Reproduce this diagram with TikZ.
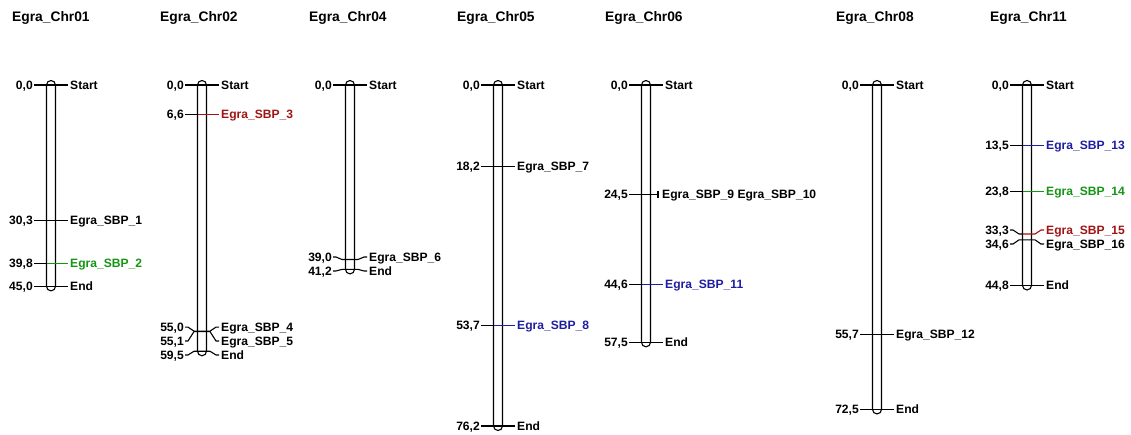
\documentclass[tikz,border=0pt]{standalone}
\usepackage{fontspec}
\setmainfont{Liberation Sans}
\usetikzlibrary{calc}
\definecolor{sgreen}{RGB}{20,150,20}
\definecolor{sred}{RGB}{160,20,20}
\definecolor{sblue}{RGB}{30,30,160}
\tikzset{
  lab/.style={font=\bfseries\fontsize{12.1}{14}\selectfont, inner sep=0pt},
  ttl/.style={font=\bfseries\fontsize{13.8}{16}\selectfont, anchor=base west, inner sep=0pt},
  chrbar/.style={draw, fill=white, line width=1.1pt, rounded corners=4.5pt},
  tickline/.style={line width=1.1pt},
}
% chromosome: id, x, end cM, title, title x
\newcommand\chrom[5]{%
  \pgfmathsetmacro\ybot{85+4.475*#3}%
  \node[ttl] (#1t) at (#5,22) {#4};
  \draw[chrbar] (#2-4.5,80.5) rectangle (#2+4.5,\ybot+4.5);
}
% marker: id, x, cM, label shift, left text, right text, colour
\newcommand\mrk[7]{%
  \pgfmathsetmacro\my{85+4.475*#3}%
  \pgfmathsetmacro\ly{\my+#4}%
  \node[lab, anchor=base east] (#1l) at (#2-18,\ly+4.3) {#5};
  \node[lab, anchor=base west, text=#7] (#1r) at (#2+19,\ly+4.3) {#6};
  \coordinate (#1a) at (#2-17,\ly);
  \coordinate (#1b) at (#2+17,\ly);
  \draw[tickline] (#1a) -- (#2-14,\ly) -- (#2-8,\my) -- (#2-4.5,\my);
  \draw[tickline, #7] (#2-4.5,\my) -- (#2+8,\my) -- (#2+14,\ly) -- (#1b);
}
\begin{document}
\begin{tikzpicture}[x=1pt,y=-1pt]
\useasboundingbox (0,0) rectangle (1131,435);
% Chr01
\chrom{c1}{51}{45.0}{Egra\_Chr01}{12}
\mrk{a1}{51}{0}{0}{0,0}{Start}{black}
\mrk{a2}{51}{30.3}{0}{30,3}{Egra\_SBP\_1}{black}
\mrk{a3}{51}{39.8}{0}{39,8}{Egra\_SBP\_2}{sgreen}
\mrk{a4}{51}{45.0}{0}{45,0}{End}{black}
% Chr02
\chrom{c2}{202}{59.5}{Egra\_Chr02}{160}
\mrk{b1}{202}{0}{0}{0,0}{Start}{black}
\mrk{b2}{202}{6.6}{0}{6,6}{Egra\_SBP\_3}{sred}
\mrk{b3}{202}{55.0}{-4}{55,0}{Egra\_SBP\_4}{black}
\mrk{b4}{202}{55.1}{9.4}{55,1}{Egra\_SBP\_5}{black}
\mrk{b5}{202}{59.5}{3.7}{59,5}{End}{black}
% Chr04
\chrom{c4}{350}{41.2}{Egra\_Chr04}{309}
\mrk{d1}{350}{0}{0}{0,0}{Start}{black}
\mrk{d2}{350}{39.0}{-2.5}{39,0}{Egra\_SBP\_6}{black}
\mrk{d3}{350}{41.2}{1.6}{41,2}{End}{black}
% Chr05
\chrom{c5}{498}{76.2}{Egra\_Chr05}{457}
\mrk{e1}{498}{0}{0}{0,0}{Start}{black}
\mrk{e2}{498}{18.2}{0}{18,2}{Egra\_SBP\_7}{black}
\mrk{e3}{498}{53.7}{0}{53,7}{Egra\_SBP\_8}{sblue}
\mrk{e4}{498}{76.2}{0}{76,2}{End}{black}
% Chr06
\chrom{c6}{646}{57.5}{Egra\_Chr06}{605}
\mrk{f1}{646}{0}{0}{0,0}{Start}{black}
\pgfmathsetmacro\my{85+4.475*24.5}
\node[lab, anchor=base east] (f2l) at (628,\my+4.3) {24,5};
\node[lab, anchor=base west] (f2r) at (662,\my+4.3) {Egra\_SBP\_9 Egra\_SBP\_10};
\draw[tickline] ([xshift=1]f2l.east |- 0,\my) -- (658,\my);
\draw[tickline] (658,\my-3.5) -- (658,\my+3.5);
\mrk{f3}{646}{44.6}{0}{44,6}{Egra\_SBP\_11}{sblue}
\mrk{f4}{646}{57.5}{0}{57,5}{End}{black}
% Chr08
\chrom{c8}{877}{72.5}{Egra\_Chr08}{836}
\mrk{g1}{877}{0}{0}{0,0}{Start}{black}
\mrk{g2}{877}{55.7}{0}{55,7}{Egra\_SBP\_12}{black}
\mrk{g3}{877}{72.5}{0}{72,5}{End}{black}
% Chr11
\chrom{c11}{1027}{44.8}{Egra\_Chr11}{990}
\mrk{h1}{1027}{0}{0}{0,0}{Start}{black}
\mrk{h2}{1027}{13.5}{0}{13,5}{Egra\_SBP\_13}{sblue}
\mrk{h3}{1027}{23.8}{0}{23,8}{Egra\_SBP\_14}{sgreen}
\mrk{h4}{1027}{33.3}{-4}{33,3}{Egra\_SBP\_15}{sred}
\mrk{h5}{1027}{34.6}{4.2}{34,6}{Egra\_SBP\_16}{black}
\mrk{h6}{1027}{44.8}{0}{44,8}{End}{black}
\end{tikzpicture}
\end{document}
